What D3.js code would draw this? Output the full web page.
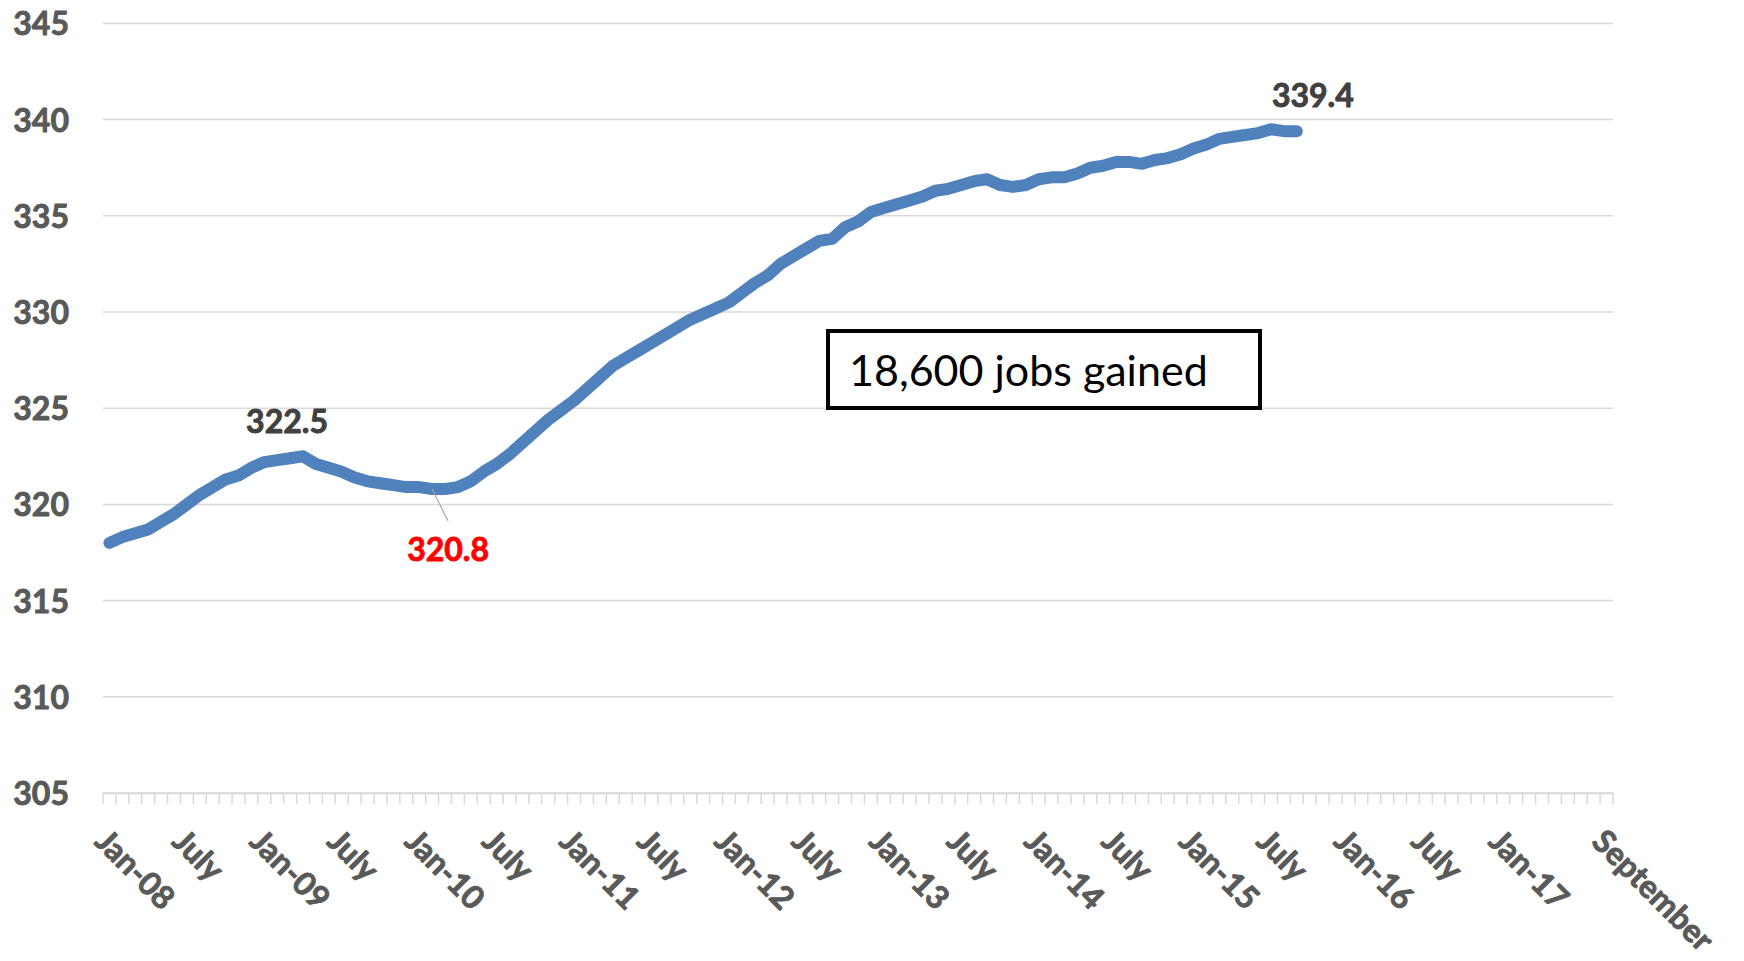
<!DOCTYPE html>
<html>
<head>
<meta charset="utf-8">
<script src="https://cdn.jsdelivr.net/npm/d3@7/dist/d3.min.js"></script>
<style>
  body { margin: 0; background: #fff }
  svg { display: block; font-family: Lato, 'Open Sans', sans-serif }
  .heavy { font-weight: bold; stroke-width: 0.9px; stroke-linejoin: round }
</style>
</head>
<body>
<svg id="chart" width="1744" height="961"></svg>
<script>
// monthly categories Jan-08 .. Sep-17, values in thousands of jobs
const months = d3.timeMonth.range(new Date(2008, 0, 1), new Date(2017, 9, 1))
const fmtKey = d3.timeFormat('%Y-%m')
const categories = months.map(fmtKey)

const jobs = [
  318.0, 318.3, 318.5, 318.7, 319.1, 319.5, 320.0, 320.5, 320.9, 321.3, 321.5, 321.9,
  322.2, 322.3, 322.4, 322.5, 322.1, 321.9, 321.7, 321.4, 321.2, 321.1, 321.0, 320.9,
  320.9, 320.8, 320.8, 320.9, 321.2, 321.7, 322.1, 322.6, 323.2, 323.8, 324.4, 324.9,
  325.4, 326.0, 326.6, 327.2, 327.6, 328.0, 328.4, 328.8, 329.2, 329.6, 329.9, 330.2,
  330.5, 331.0, 331.5, 331.9, 332.5, 332.9, 333.3, 333.7, 333.8, 334.4, 334.7, 335.2,
  335.4, 335.6, 335.8, 336.0, 336.3, 336.4, 336.6, 336.8, 336.9, 336.6, 336.5, 336.6,
  336.9, 337.0, 337.0, 337.2, 337.5, 337.6, 337.8, 337.8, 337.7, 337.9, 338.0, 338.2,
  338.5, 338.7, 339.0, 339.1, 339.2, 339.3, 339.5, 339.4, 339.4
]

const tickKeys = ['2008-01', '2008-07', '2009-01', '2009-07', '2010-01', '2010-07',
  '2011-01', '2011-07', '2012-01', '2012-07', '2013-01', '2013-07', '2014-01', '2014-07',
  '2015-01', '2015-07', '2016-01', '2016-07', '2017-01', '2017-09']
const tickLabels = ['Jan-08', 'July', 'Jan-09', 'July', 'Jan-10', 'July', 'Jan-11', 'July',
  'Jan-12', 'July', 'Jan-13', 'July', 'Jan-14', 'July', 'Jan-15', 'July', 'Jan-16', 'July',
  'Jan-17', 'September']

const yTicks = [305, 310, 315, 320, 325, 330, 335, 340, 345]

// callouts: [category index, label]
const peak = [15, '322.5']
const trough = [25, '320.8']
const latest = [92, '339.4']
const boxText = '18,600 jobs gained'

const svg = d3.select('#chart')
const plotLeft = 103
const plotRight = 1613
const plotTop = 23.4
const plotBottom = 793

const x = d3.scaleBand().domain(categories).range([plotLeft, plotRight])
const y = d3.scaleLinear().domain([305, 345]).range([plotBottom, plotTop])
const cx = i => x(categories[i]) + x.bandwidth() / 2

// gridlines
svg.append('g')
  .selectAll('line')
  .data(yTicks)
  .join('line')
  .attr('x1', plotLeft)
  .attr('x2', plotRight)
  .attr('y1', d => y(d))
  .attr('y2', d => y(d))
  .attr('stroke', '#d9d9d9')
  .attr('stroke-width', 1.5)

// y labels
const yAxis = svg.append('g')
  .attr('transform', 'translate(69,0)')
  .call(d3.axisLeft(y).tickValues(yTicks).tickSize(0).tickPadding(0).tickFormat(d3.format('d')))
yAxis.select('.domain').remove()
yAxis.selectAll('text')
  .attr('class', 'heavy')
  .attr('x', 0)
  .attr('dy', '0.36em')
  .attr('fill', '#595959')
  .attr('stroke', '#595959')
  .style('font-size', '32px')
  .style('font-family', 'Lato, sans-serif')

// category ticks at band edges
const edges = categories.map(c => x(c)).concat([plotRight])
svg.append('g')
  .selectAll('line')
  .data(edges)
  .join('line')
  .attr('x1', d => d)
  .attr('x2', d => d)
  .attr('y1', plotBottom)
  .attr('y2', plotBottom + 11)
  .attr('stroke', '#d9d9d9')
  .attr('stroke-width', 1.5)

const labelOf = new Map(tickKeys.map((k, i) => [k, tickLabels[i]]))
const xAxis = svg.append('g')
  .attr('transform', `translate(0,${plotBottom})`)
  .call(d3.axisBottom(x).tickValues(tickKeys).tickSize(0).tickPadding(0).tickFormat(k => labelOf.get(k)))
xAxis.select('.domain').attr('stroke', '#d9d9d9').attr('stroke-width', 1.5)
xAxis.selectAll('text')
  .attr('class', 'heavy')
  .attr('y', 0)
  .attr('x', 0)
  .attr('dy', '0.72em')
  .attr('text-anchor', 'start')
  .attr('transform', 'translate(0,34) rotate(45)')
  .attr('fill', '#595959')
  .attr('stroke', '#595959')
  .style('font-size', '32px')
  .style('font-family', 'Lato, sans-serif')

// series
const line = d3.line()
  .x((d, i) => cx(i))
  .y(d => y(d))

svg.append('path')
  .datum(jobs)
  .attr('d', line)
  .attr('fill', 'none')
  .attr('stroke', '#4f81bd')
  .attr('stroke-width', 12)
  .attr('stroke-linejoin', 'round')
  .attr('stroke-linecap', 'round')

// data labels
svg.append('text')
  .attr('class', 'heavy')
  .attr('x', cx(peak[0]) - 16)
  .attr('y', y(jobs[peak[0]]) - 23)
  .attr('text-anchor', 'middle')
  .attr('fill', '#404040')
  .attr('stroke', '#404040')
  .style('font-size', '32px')
  .text(peak[1])

svg.append('text')
  .attr('class', 'heavy')
  .attr('x', cx(latest[0]) + 16)
  .attr('y', y(jobs[latest[0]]) - 24)
  .attr('text-anchor', 'middle')
  .attr('fill', '#404040')
  .attr('stroke', '#404040')
  .style('font-size', '32px')
  .text(latest[1])

const tx = cx(trough[0])
const ty = y(jobs[trough[0]])
svg.append('line')
  .attr('x1', tx)
  .attr('y1', ty)
  .attr('x2', tx + 16)
  .attr('y2', ty + 32)
  .attr('stroke', '#a6a6a6')
  .attr('stroke-width', 1.2)
svg.append('text')
  .attr('class', 'heavy')
  .attr('x', tx + 16)
  .attr('y', ty + 72)
  .attr('text-anchor', 'middle')
  .attr('fill', '#ff0000')
  .attr('stroke', '#ff0000')
  .style('font-size', '32px')
  .text(trough[1])

// text box
svg.append('rect')
  .attr('x', 828)
  .attr('y', 331)
  .attr('width', 432)
  .attr('height', 77)
  .attr('fill', '#fff')
  .attr('stroke', '#000')
  .attr('stroke-width', 4)
svg.append('text')
  .attr('x', 849)
  .attr('y', 386)
  .attr('fill', '#000')
  .style('font-size', '43px')
  .text(boxText)
</script>
</body>
</html>
